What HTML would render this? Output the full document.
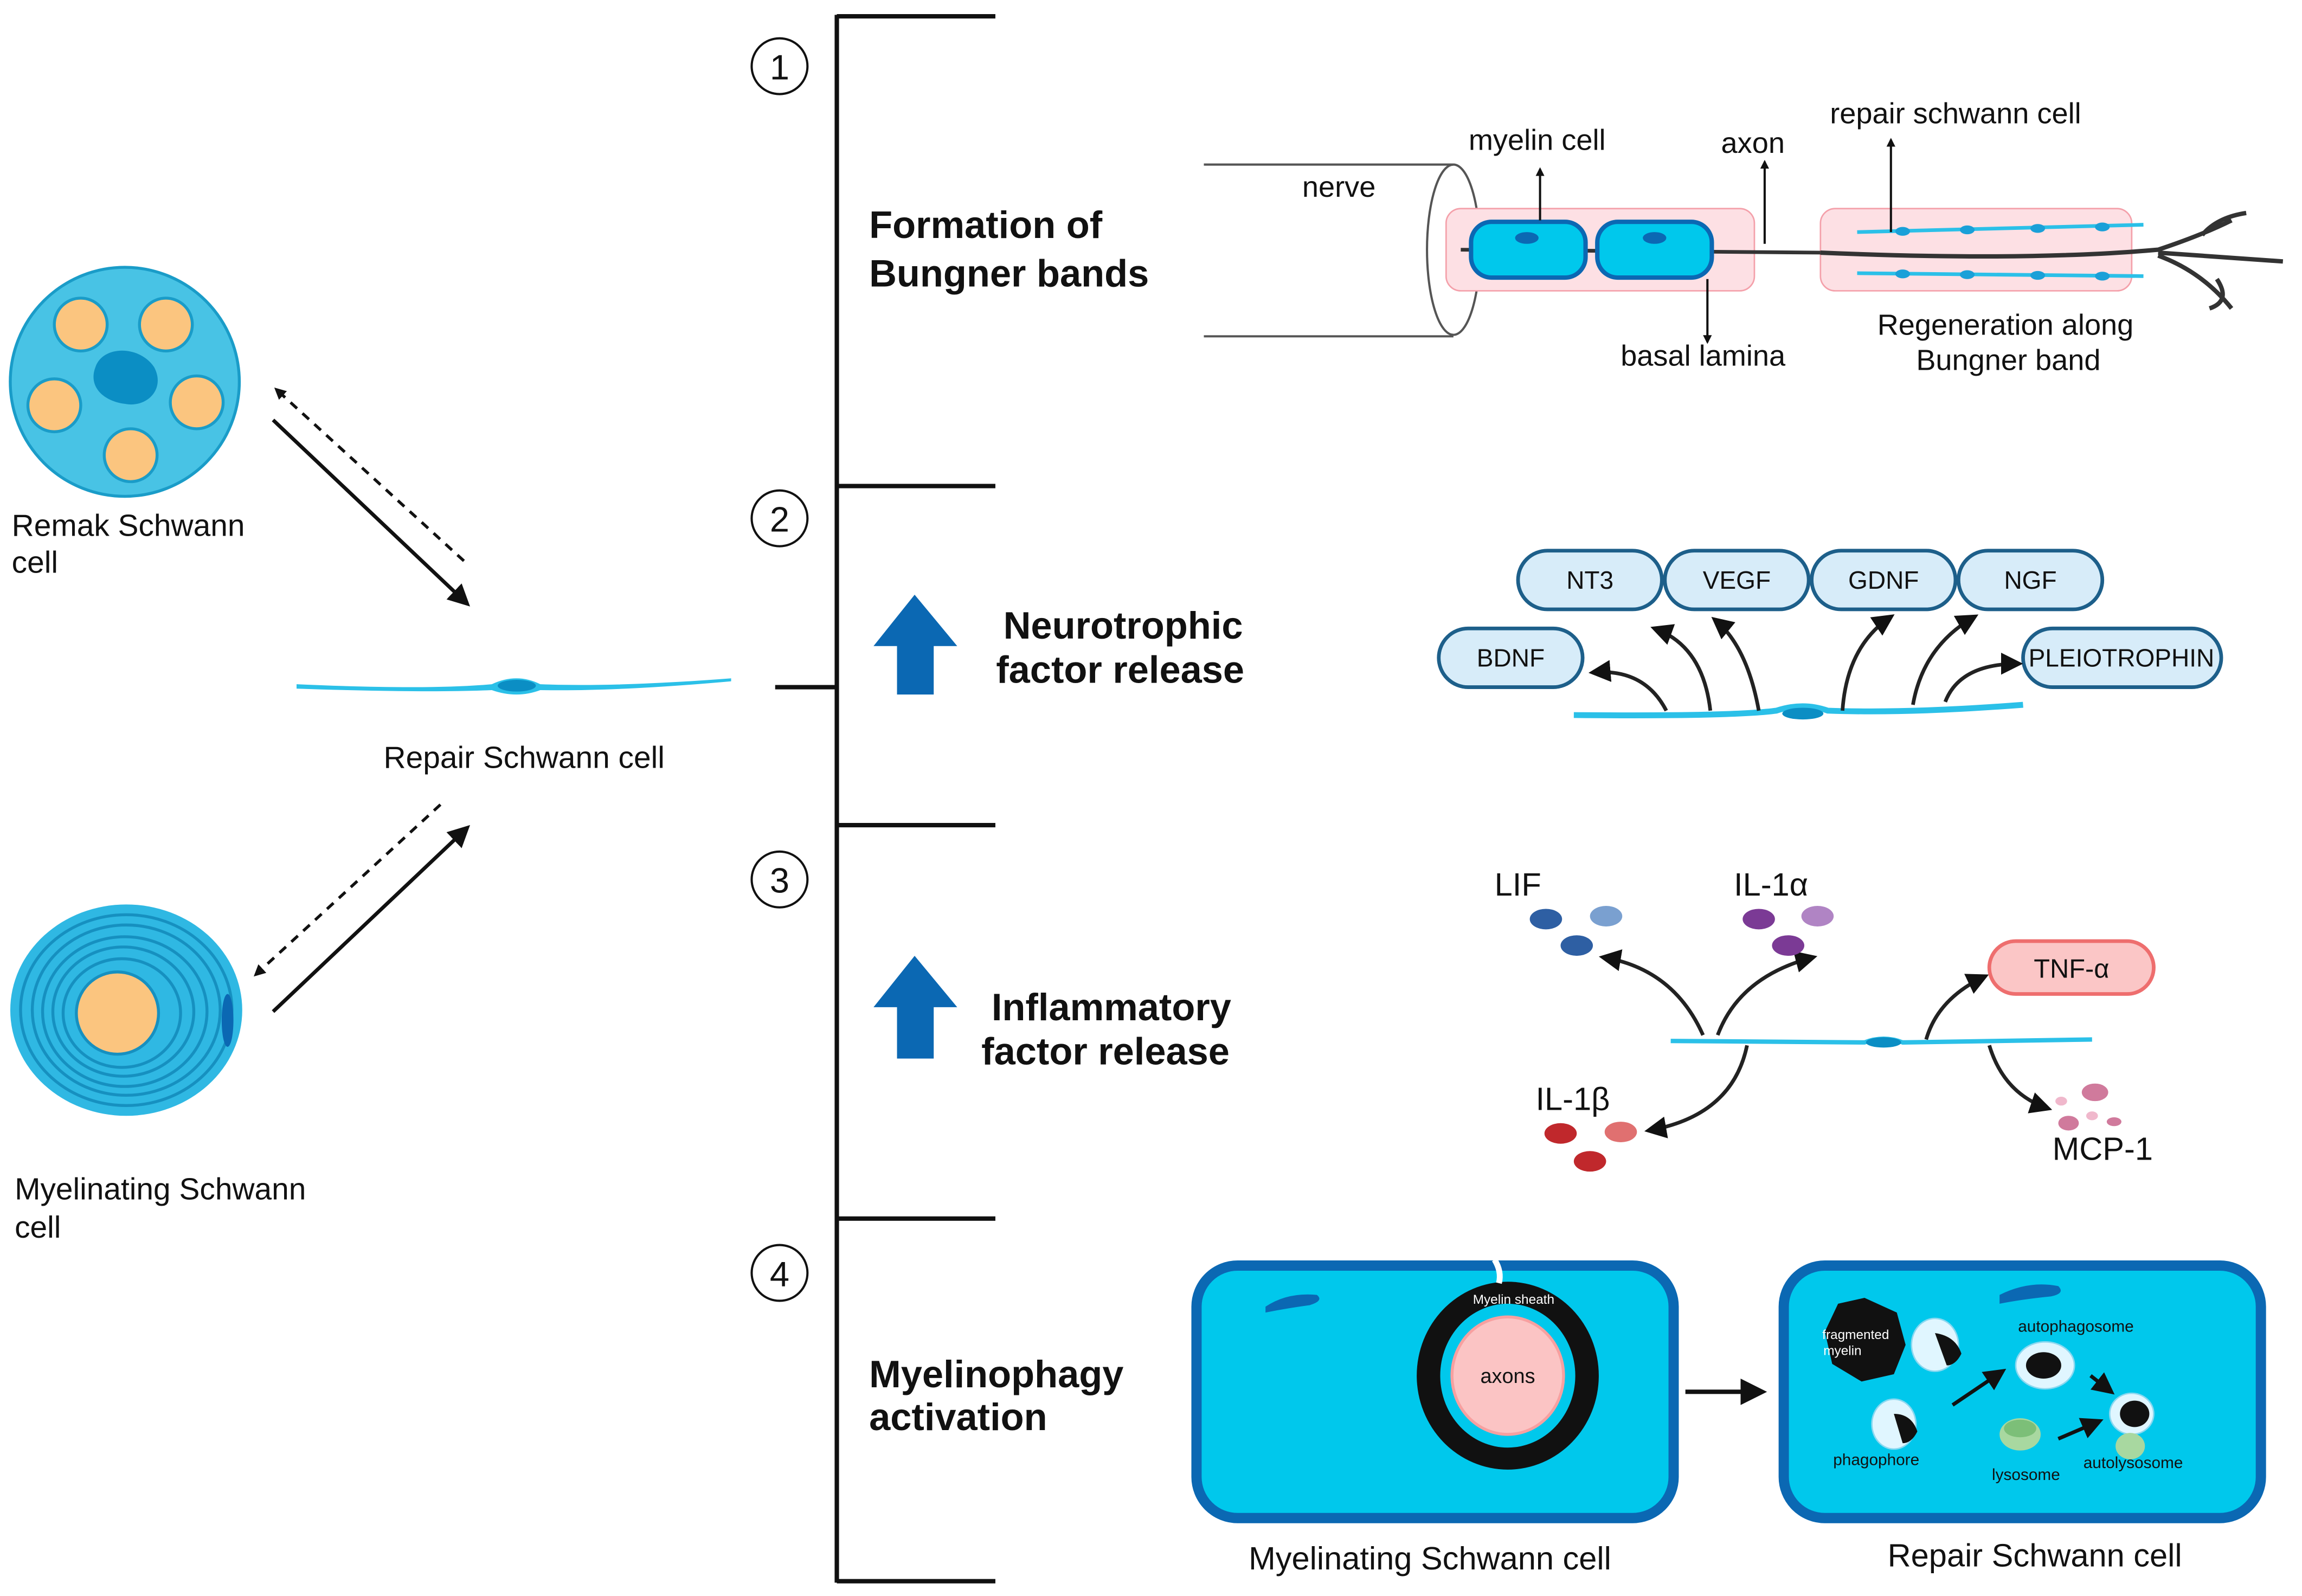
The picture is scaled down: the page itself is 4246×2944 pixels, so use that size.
<!DOCTYPE html>
<html><head><meta charset="utf-8"><style>html,body{margin:0;padding:0;background:#fff}svg{display:block}text{font-family:"Liberation Sans",sans-serif}</style></head><body>
<svg width="4246" height="2944" viewBox="0 0 1568 1087" xmlns="http://www.w3.org/2000/svg">
<defs>
<marker id="ah" viewBox="0 0 10 10" refX="8" refY="5" markerWidth="6" markerHeight="6" orient="auto"><path d="M0,0L10,5L0,10z" fill="#111"/></marker>
<marker id="as" viewBox="0 0 10 10" refX="8" refY="5" markerWidth="4" markerHeight="4" orient="auto"><path d="M0,0L10,5L0,10z" fill="#111"/></marker>
</defs>
<g stroke="#111" stroke-width="3" fill="none">
<line x1="570" y1="10" x2="570" y2="1078"/>
<line x1="570" y1="11" x2="678" y2="11"/><line x1="570" y1="331" x2="678" y2="331"/>
<line x1="570" y1="562" x2="678" y2="562"/><line x1="570" y1="830" x2="678" y2="830"/>
<line x1="570" y1="1077" x2="678" y2="1077"/><line x1="528" y1="468" x2="570" y2="468"/>
</g>
<g stroke="#111" stroke-width="1.5" fill="#fff">
<circle cx="531" cy="45" r="19"/><circle cx="531" cy="353" r="19"/><circle cx="531" cy="599" r="19"/><circle cx="531" cy="867" r="19"/></g>
<g font-size="24" text-anchor="middle" fill="#111"><text x="531" y="54">1</text><text x="531" y="362">2</text><text x="531" y="608">3</text><text x="531" y="876">4</text></g>
<g font-size="26" font-weight="bold" fill="#111">
<text x="592" y="162">Formation of</text><text x="592" y="195">Bungner bands</text>
<text x="765" y="435" text-anchor="middle">Neurotrophic</text><text x="763" y="465" text-anchor="middle">factor release</text>
<text x="757" y="695" text-anchor="middle">Inflammatory</text><text x="753" y="725" text-anchor="middle">factor release</text>
<text x="592" y="945">Myelinophagy</text><text x="592" y="974">activation</text></g>
<g fill="#0b68b3"><path d="M623,405L652,440L636,440L636,473L611,473L611,440L595,440z"/><path d="M623,651L652,686L636,686L636,721L611,721L611,686L595,686z"/></g>
<!-- left cells -->
<circle cx="85" cy="260" r="78" fill="#48c3e5" stroke="#1a9cc8" stroke-width="2"/>
<path d="M65,250c5,-15 30,-15 40,0c8,15 -5,28 -20,25c-15,-2 -25,-12 -20,-25z" fill="#0b8ec4"/>
<g fill="#fbc57f" stroke="#1a9cc8" stroke-width="2"><circle cx="55" cy="221" r="18"/><circle cx="113" cy="221" r="18"/><circle cx="37" cy="276" r="18"/><circle cx="134" cy="274" r="18"/><circle cx="89" cy="310" r="18"/></g>
<g font-size="21" fill="#111"><text x="8" y="365">Remak Schwann</text><text x="8" y="390">cell</text>
<text x="10" y="817">Myelinating Schwann</text><text x="10" y="843">cell</text>
<text x="357" y="523" text-anchor="middle">Repair Schwann cell</text></g>
<ellipse cx="86" cy="688" rx="79" ry="72" fill="#2fb8e3"/>
<g fill="none" stroke="#1690c0" stroke-width="2"><ellipse cx="86" cy="688" rx="72" ry="65"/><ellipse cx="86" cy="688" rx="64" ry="58"/><ellipse cx="85" cy="689" rx="56" ry="51"/><ellipse cx="84" cy="689" rx="48" ry="44"/><ellipse cx="83" cy="690" rx="40" ry="37"/></g>
<ellipse cx="155" cy="695" rx="4" ry="18" fill="#0b68b3"/>
<circle cx="80" cy="690" r="28" fill="#fbc57f" stroke="#1690c0" stroke-width="2"/>
<path d="M202,466Q290,470 335,466Q352,458 368,466Q420,468 498,462L498,464Q420,471 368,470Q352,476 335,470Q290,472 202,469z" fill="#2bc0e8"/>
<ellipse cx="352" cy="467" rx="13" ry="4" fill="#0b8ec4"/>
<g stroke="#111" stroke-width="2.5" fill="none">
<line x1="186" y1="286" x2="318" y2="411" marker-end="url(#ah)"/>
<line x1="316" y1="382" x2="188" y2="265" stroke-dasharray="6,5" stroke-width="2" marker-end="url(#as)"/>
<line x1="186" y1="689" x2="318" y2="564" marker-end="url(#ah)"/>
<line x1="300" y1="548" x2="174" y2="664" stroke-dasharray="6,5" stroke-width="2" marker-end="url(#as)"/></g>
<!-- panel 1 -->
<g stroke="#555" stroke-width="1.5" fill="none"><line x1="820" y1="112" x2="990" y2="112"/><line x1="820" y1="229" x2="990" y2="229"/><ellipse cx="990" cy="170" rx="18" ry="58"/></g>
<rect x="985" y="142" width="210" height="56" rx="10" fill="#fde0e4" stroke="#f4a0aa"/>
<rect x="1240" y="142" width="212" height="56" rx="10" fill="#fde0e4" stroke="#f4a0aa"/>
<path d="M995,170L1240,172" stroke="#333" stroke-width="2.5"/>
<path d="M1240,172Q1380,178 1470,170Q1500,160 1520,150M1470,172L1555,178M1470,174Q1500,185 1520,210M1500,160Q1510,148 1530,145M1510,190Q1520,205 1505,210" stroke="#333" stroke-width="3" fill="none"/>
<g fill="#00c8ec" stroke="#0b68b3" stroke-width="3"><rect x="1002" y="151" width="78" height="38" rx="14"/><rect x="1088" y="151" width="78" height="38" rx="14"/></g>
<ellipse cx="1040" cy="162" rx="8" ry="4" fill="#0b68b3"/><ellipse cx="1127" cy="162" rx="8" ry="4" fill="#0b68b3"/>
<g stroke="#2bc0e8" stroke-width="2.5"><line x1="1265" y1="158" x2="1460" y2="153"/><line x1="1265" y1="186" x2="1460" y2="188"/></g>
<g fill="#1aa0d8"><ellipse cx="1296" cy="157.5" rx="5" ry="3"/><ellipse cx="1340" cy="156.5" rx="5" ry="3"/><ellipse cx="1388" cy="155.5" rx="5" ry="3"/><ellipse cx="1432" cy="154.5" rx="5" ry="3"/><ellipse cx="1296" cy="186.5" rx="5" ry="3"/><ellipse cx="1340" cy="187" rx="5" ry="3"/><ellipse cx="1388" cy="187.5" rx="5" ry="3"/><ellipse cx="1432" cy="188" rx="5" ry="3"/></g>
<g stroke="#111" stroke-width="1.5"><line x1="1049" y1="150" x2="1049" y2="115" marker-end="url(#as)"/><line x1="1202" y1="166" x2="1202" y2="110" marker-end="url(#as)"/><line x1="1163" y1="190" x2="1163" y2="233" marker-end="url(#as)"/><line x1="1288" y1="158" x2="1288" y2="95" marker-end="url(#as)"/></g>
<g font-size="20" fill="#111" text-anchor="middle"><text x="912" y="134">nerve</text><text x="1047" y="102">myelin cell</text><text x="1194" y="104">axon</text><text x="1332" y="84">repair schwann cell</text><text x="1160" y="249">basal lamina</text><text x="1366" y="228">Regeneration along</text><text x="1368" y="252">Bungner band</text></g>
<!-- panel 2 -->
<g fill="#d7ecf9" stroke="#1d5f8a" stroke-width="2.5">
<rect x="1034" y="375" width="98" height="40" rx="20"/><rect x="1134" y="375" width="98" height="40" rx="20"/><rect x="1234" y="375" width="98" height="40" rx="20"/><rect x="1334" y="375" width="98" height="40" rx="20"/><rect x="980" y="428" width="98" height="40" rx="20"/><rect x="1378" y="428" width="135" height="40" rx="20"/></g>
<g font-size="17" fill="#111" text-anchor="middle"><text x="1083" y="401">NT3</text><text x="1183" y="401">VEGF</text><text x="1283" y="401">GDNF</text><text x="1383" y="401">NGF</text><text x="1029" y="454">BDNF</text><text x="1445" y="454">PLEIOTROPHIN</text></g>
<path d="M1072,487Q1180,488 1210,484Q1228,478 1245,484Q1300,486 1378,480" stroke="#2bc0e8" stroke-width="4" fill="none"/>
<ellipse cx="1228" cy="486" rx="14" ry="4" fill="#0b8ec4"/>
<g stroke="#222" stroke-width="2.5" fill="none" marker-end="url(#ah)">
<path d="M1135,484Q1120,455 1085,458"/><path d="M1165,484Q1160,440 1127,428"/><path d="M1198,484Q1190,440 1168,422"/><path d="M1255,484Q1258,440 1288,420"/><path d="M1303,480Q1310,440 1345,420"/><path d="M1325,478Q1335,452 1375,452"/></g>
<!-- panel 3 -->
<path d="M1138,709L1270,710Q1283,705 1296,710L1425,708" stroke="#2bc0e8" stroke-width="3" fill="none"/>
<ellipse cx="1283" cy="710" rx="12" ry="3.5" fill="#0b8ec4"/>
<g stroke="#222" stroke-width="2.5" fill="none" marker-end="url(#ah)"><path d="M1160,705Q1140,660 1092,652"/><path d="M1170,705Q1185,665 1235,652"/><path d="M1190,712Q1180,760 1123,770"/><path d="M1312,708Q1320,680 1352,665"/><path d="M1355,712Q1365,745 1395,755"/></g>
<g font-size="22" fill="#111"><text x="1018" y="610">LIF</text><text x="1181" y="610">IL-1α</text><text x="1046" y="756">IL-1β</text><text x="1398" y="790">MCP-1</text></g>
<g fill="#2e5fa3"><ellipse cx="1053" cy="626" rx="11" ry="7"/><ellipse cx="1074" cy="644" rx="11" ry="7"/></g><ellipse cx="1094" cy="624" rx="11" ry="7" fill="#7aa0d0"/>
<g fill="#7b3a95"><ellipse cx="1198" cy="626" rx="11" ry="7"/><ellipse cx="1218" cy="644" rx="11" ry="7"/></g><ellipse cx="1238" cy="624" rx="11" ry="7" fill="#b084c4"/>
<g fill="#c0282c"><ellipse cx="1063" cy="772" rx="11" ry="7"/><ellipse cx="1083" cy="791" rx="11" ry="7"/></g><ellipse cx="1104" cy="771" rx="11" ry="7" fill="#e07070"/>
<g fill="#d07a9c"><ellipse cx="1427" cy="744" rx="9" ry="6"/><ellipse cx="1409" cy="765" rx="7" ry="5"/><ellipse cx="1440" cy="764" rx="5" ry="3"/><ellipse cx="1404" cy="750" rx="4" ry="3" fill="#f0b8cc"/><ellipse cx="1425" cy="760" rx="4" ry="3" fill="#f0b8cc"/></g>
<rect x="1355" y="641" width="112" height="36" rx="18" fill="#fbc6c6" stroke="#ee6e6e" stroke-width="2.5"/>
<text x="1411" y="666" font-size="18" text-anchor="middle" fill="#111">TNF-α</text>
<!-- panel 4 -->
<g fill="#00c8ec" stroke="#0b68b3" stroke-width="7"><rect x="815" y="862" width="325" height="172" rx="28"/><rect x="1215" y="862" width="325" height="172" rx="28"/></g>
<path d="M862,890q15,-10 35,-8q5,4 -5,7q-15,2 -30,5z" fill="#0b68b3"/><path d="M1362,882q20,-10 40,-6q5,5 -5,7q-20,2 -35,5z" fill="#0b68b3"/>
<ellipse cx="1027" cy="937" rx="62" ry="64" fill="#111"/><ellipse cx="1027" cy="937" rx="46" ry="49" fill="#00c8ec"/><ellipse cx="1027" cy="937" rx="38" ry="40" fill="#fbc4c4" stroke="#f7a0a0" stroke-width="2"/>
<path d="M1018,858q5,8 3,16" stroke="#fff" stroke-width="4" fill="none"/>
<text x="1031" y="888" font-size="9" fill="#fff" text-anchor="middle">Myelin sheath</text>
<text x="1027" y="942" font-size="14" fill="#111" text-anchor="middle">axons</text>
<line x1="1148" y1="948" x2="1200" y2="948" stroke="#111" stroke-width="3" marker-end="url(#ah)"/>
<path d="M1252,888l18,-4l22,10l6,22l-8,20l-22,5l-20,-12l-5,-22z" fill="#111"/>
<text x="1264" y="912" font-size="9" fill="#fff" text-anchor="middle">fragmented</text><text x="1255" y="923" font-size="9" fill="#fff" text-anchor="middle">myelin</text>
<g fill="#e0f6ff" stroke="#8ad8f0"><ellipse cx="1318" cy="916" rx="16" ry="18"/><ellipse cx="1290" cy="970" rx="15" ry="17"/><ellipse cx="1393" cy="930" rx="20" ry="16"/><ellipse cx="1452" cy="963" rx="15" ry="14"/></g>
<g fill="#111"><path d="M1318,908q14,2 18,14q-4,8 -10,8z"/><path d="M1290,963q12,0 16,12q-4,8 -10,8z"/><ellipse cx="1392" cy="930" rx="12" ry="9"/><ellipse cx="1454" cy="963" rx="10" ry="9"/></g>
<ellipse cx="1376" cy="977" rx="14" ry="11" fill="#a8d8a0"/><ellipse cx="1376" cy="973" rx="11" ry="6" fill="#7cbf78"/>
<ellipse cx="1451" cy="985" rx="10" ry="9" fill="#a8d8a0"/>
<g stroke="#111" stroke-width="2.5" marker-end="url(#ah)"><line x1="1330" y1="957" x2="1364" y2="934"/><line x1="1424" y1="937" x2="1438" y2="948"/><line x1="1402" y1="980" x2="1430" y2="968"/></g>
<g font-size="11" fill="#111" text-anchor="middle"><text x="1414" y="907">autophagosome</text><text x="1278" y="998">phagophore</text><text x="1380" y="1008">lysosome</text><text x="1453" y="1000">autolysosome</text></g>
<g font-size="22" fill="#111" text-anchor="middle"><text x="974" y="1069">Myelinating  Schwann cell</text><text x="1386" y="1067">Repair Schwann cell</text></g>
</svg>
</body></html>
